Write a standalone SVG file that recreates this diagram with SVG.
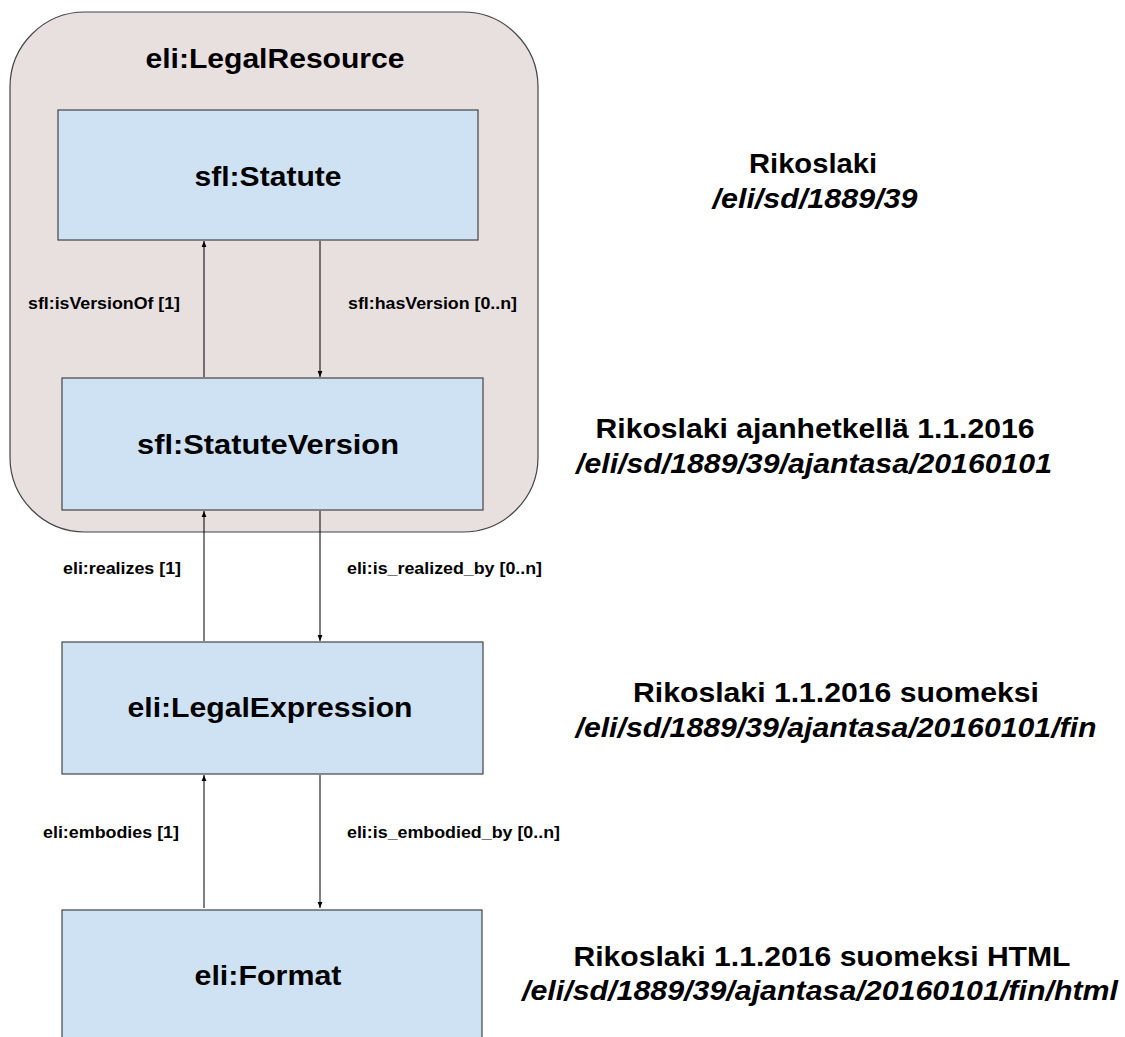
<svg xmlns="http://www.w3.org/2000/svg" width="1125" height="1037" viewBox="0 0 1125 1037">
  <defs>
    <marker id="arr" viewBox="0 0 10 10" refX="10" refY="5" markerWidth="6" markerHeight="6" markerUnits="userSpaceOnUse" orient="auto">
      <path d="M0,1 L10,5 L0,9 z" fill="#000"/>
    </marker>
    <style>
      .group { fill: #e8dfdf; stroke: #444; stroke-width: 1.2; }
      .box { fill: #cfe2f3; stroke: #444; stroke-width: 1.2; }
      text { font-family: "Liberation Sans", Arial, sans-serif; font-weight: bold; fill: #000; }
      .lbl { text-anchor: middle; font-size: 28px; }
      .edge { font-size: 16px; }
      .note { font-size: 28px; text-anchor: middle; }
      .uri { font-style: italic; }
      .conn { stroke: #000; stroke-width: 1; fill: none; marker-end: url(#arr); }
    </style>
  </defs>

  <!-- container -->
  <g id="legal-resource">
    <rect class="group" x="10" y="12" width="528" height="520" rx="75" ry="75"/>
    <text class="lbl" x="275" y="68" textLength="259" lengthAdjust="spacingAndGlyphs">eli:LegalResource</text>
  </g>

  <g id="statute">
    <rect class="box" x="58" y="110" width="420" height="130"/>
    <text class="lbl" x="268" y="186" textLength="147" lengthAdjust="spacingAndGlyphs">sfl:Statute</text>
  </g>

  <g id="statute-version">
    <rect class="box" x="62" y="378" width="421" height="132"/>
    <text class="lbl" x="268" y="454" textLength="262" lengthAdjust="spacingAndGlyphs">sfl:StatuteVersion</text>
  </g>

  <g id="legal-expression">
    <rect class="box" x="62" y="642" width="421" height="132"/>
    <text class="lbl" x="270" y="717" textLength="285" lengthAdjust="spacingAndGlyphs">eli:LegalExpression</text>
  </g>

  <g id="format">
    <rect class="box" x="62" y="910" width="420" height="140"/>
    <text class="lbl" x="268" y="985" textLength="147" lengthAdjust="spacingAndGlyphs">eli:Format</text>
  </g>

  <!-- connectors -->
  <g id="connectors">
    <line class="conn" x1="204" y1="377" x2="204" y2="241"/>
    <line class="conn" x1="320" y1="241" x2="320" y2="377"/>
    <line class="conn" x1="204" y1="641" x2="204" y2="511"/>
    <line class="conn" x1="320" y1="511" x2="320" y2="641"/>
    <line class="conn" x1="204" y1="908" x2="204" y2="775"/>
    <line class="conn" x1="320" y1="775" x2="320" y2="908"/>
    <text class="edge" x="28" y="309" textLength="152" lengthAdjust="spacingAndGlyphs">sfl:isVersionOf [1]</text>
    <text class="edge" x="348" y="309" textLength="169" lengthAdjust="spacingAndGlyphs">sfl:hasVersion [0..n]</text>
    <text class="edge" x="63" y="574" textLength="118" lengthAdjust="spacingAndGlyphs">eli:realizes [1]</text>
    <text class="edge" x="347" y="574" textLength="195" lengthAdjust="spacingAndGlyphs">eli:is_realized_by [0..n]</text>
    <text class="edge" x="43" y="838" textLength="136" lengthAdjust="spacingAndGlyphs">eli:embodies [1]</text>
    <text class="edge" x="347" y="838" textLength="213" lengthAdjust="spacingAndGlyphs">eli:is_embodied_by [0..n]</text>
  </g>

  <!-- descriptions -->
  <g id="desc-statute">
    <text class="note" x="813" y="173" textLength="128" lengthAdjust="spacingAndGlyphs">Rikoslaki</text>
    <text class="note uri" x="815" y="208" textLength="205" lengthAdjust="spacingAndGlyphs">/eli/sd/1889/39</text>
  </g>
  <g id="desc-version">
    <text class="note" x="815" y="438" textLength="439" lengthAdjust="spacingAndGlyphs">Rikoslaki ajanhetkellä 1.1.2016</text>
    <text class="note uri" x="814" y="473" textLength="476" lengthAdjust="spacingAndGlyphs">/eli/sd/1889/39/ajantasa/20160101</text>
  </g>
  <g id="desc-expression">
    <text class="note" x="836" y="702" textLength="406" lengthAdjust="spacingAndGlyphs">Rikoslaki 1.1.2016 suomeksi</text>
    <text class="note uri" x="836" y="737" textLength="521" lengthAdjust="spacingAndGlyphs">/eli/sd/1889/39/ajantasa/20160101/fin</text>
  </g>
  <g id="desc-format">
    <text class="note" x="822" y="966" textLength="497" lengthAdjust="spacingAndGlyphs">Rikoslaki 1.1.2016 suomeksi HTML</text>
    <text class="note uri" x="820" y="1000" textLength="596" lengthAdjust="spacingAndGlyphs">/eli/sd/1889/39/ajantasa/20160101/fin/html</text>
  </g>
</svg>
